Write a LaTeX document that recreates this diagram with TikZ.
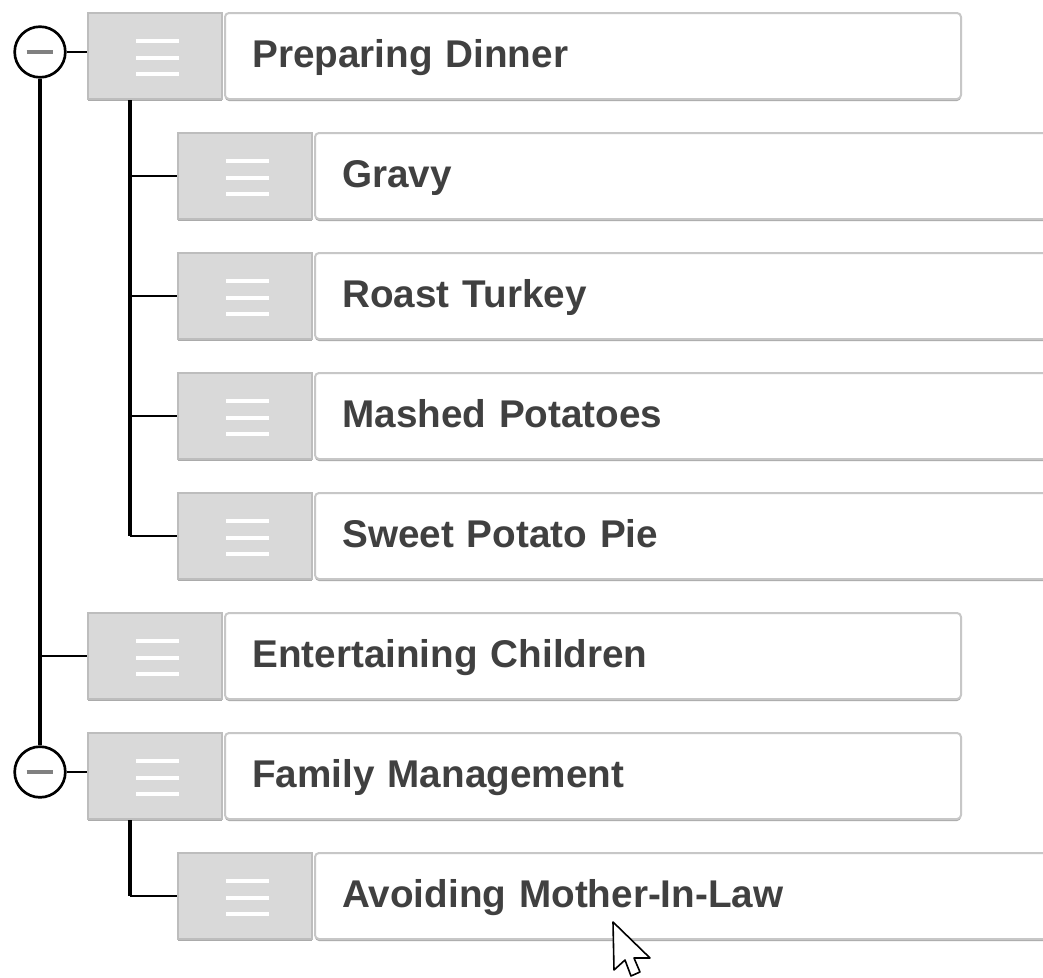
\documentclass[tikz,border=0pt]{standalone}
\usepackage{fontspec}
\setmainfont{Liberation Sans}
\usetikzlibrary{shadows}

\definecolor{handlefill}{HTML}{D9D9D9}
\definecolor{boxline}{HTML}{BDBDBD}
\definecolor{shadowgray}{HTML}{ABABAB}
\definecolor{labelgray}{HTML}{404040}

\tikzset{
  handle/.style={draw=boxline, fill=handlefill, line width=1.5pt,
    minimum width=100.5pt, minimum height=64.5pt, inner sep=0pt, anchor=north west,
    drop shadow={shadow xshift=0pt, shadow yshift=-1.5pt, fill=shadowgray, opacity=1},
    path picture={
      \foreach \dy in {11.25,-1.5,-13.5}
        \draw[white, line width=3.5pt]
          ([xshift=-14pt, yshift=\dy pt]path picture bounding box.center) --
          ([xshift=18pt, yshift=\dy pt]path picture bounding box.center);
    }},
  itembox/.style={draw=boxline!85, fill=white, line width=1.5pt, rounded corners=3pt,
    minimum height=64.5pt, text width=511pt, inner xsep=20.5pt, inner ysep=0pt,
    align=left, anchor=north west, text=labelgray,
    font=\fontsize{29}{34}\selectfont\bfseries, text height=21pt, text depth=4pt,
    drop shadow={shadow xshift=0pt, shadow yshift=-1.5pt, fill=shadowgray, opacity=1}},
  toggle/.style={circle, draw=black, fill=white, line width=2pt,
    minimum size=38pt, inner sep=0pt,
    path picture={
      \draw[gray, line width=3pt]
        ([xshift=-10pt]path picture bounding box.center) --
        ([xshift=10pt]path picture bounding box.center);
    }},
  trunk/.style={line width=3pt},
  branch/.style={line width=1.5pt},
}

\begin{document}
\begin{tikzpicture}[x=0.75pt, y=-0.75pt]
  \fill[white] (0,0) rectangle (1043,978);
  \clip (0,0) rectangle (1043,978);

  % PREPARING DINNER
  \node[handle] (h1) at (87,12) {};
  \node[itembox] (b1) at (224,12) {Preparing Dinner};

  % CHILDREN
  \node[handle] (h2) at (177,132) {};
  \node[itembox] (b2) at (314,132) {Gravy};
  \node[handle] (h3) at (177,252) {};
  \node[itembox] (b3) at (314,252) {Roast Turkey};
  \node[handle] (h4) at (177,372) {};
  \node[itembox] (b4) at (314,372) {Mashed Potatoes};
  \node[handle] (h5) at (177,492) {};
  \node[itembox] (b5) at (314,492) {Sweet Potato Pie};

  % OTHER TOP ROWS
  \node[handle] (h6) at (87,612) {};
  \node[itembox] (b6) at (224,612) {Entertaining Children};
  \node[handle] (h7) at (87,732) {};
  \node[itembox] (b7) at (224,732) {Family Management};

  \node[handle] (h8) at (177,852) {};
  \node[itembox] (b8) at (314,852) {Avoiding Mother-In-Law};

  % TOGGLES
  \node[toggle] (tg1) at (40,52) {};
  \node[toggle] (tg2) at (40,772) {};

  % TREE LINES
  \coordinate (j1) at ([xshift=32.25pt]h1.south west);
  \coordinate (j2) at ([xshift=32.25pt]h7.south west);

  \draw[trunk] (tg1) -- (tg2);
  \draw[branch] (tg1) -- (tg1 -| h1.west);
  \draw[branch] (tg1 |- h6.west) -- (h6.west);
  \draw[branch] (tg2) -- (tg2 -| h7.west);

  \draw[trunk] (j1) -- (j1 |- h5.west);
  \foreach \n in {2,...,5}
    \draw[branch] (j1 |- h\n.west) -- (h\n.west);

  \draw[trunk] (j2) -- (j2 |- h8.west);
  \draw[branch] (j2 |- h8.west) -- (h8.west);

  % POINTER
  \draw[fill=white, line width=1.2pt, line join=round]
    (613,922) -- (614,970) -- (625,960) -- (631,976) -- (640,972)
    -- (634,958) -- (650,958) -- cycle;
\end{tikzpicture}
\end{document}
